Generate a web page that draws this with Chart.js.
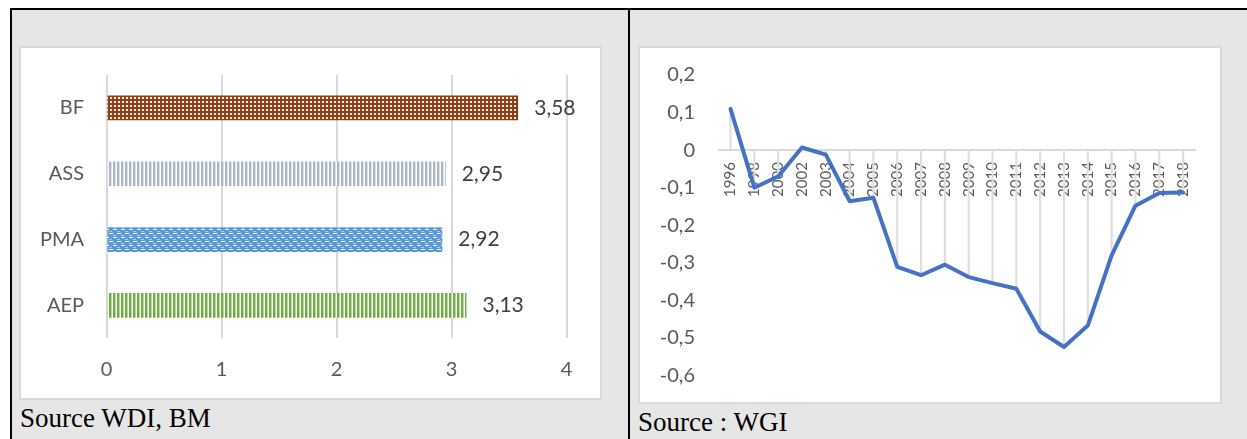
<!DOCTYPE html>
<html>
<head>
<meta charset="utf-8">
<script src="https://cdn.jsdelivr.net/npm/chart.js@4/dist/chart.umd.min.js"></script>
<style>
  html, body { margin: 0; padding: 0; background: #ffffff; }
  body { width: 1247px; height: 439px; position: relative; overflow: hidden; }
  .cell { position: absolute; background: #e7e6e6; }
  .rule { position: absolute; background: #000000; }
  .box { position: absolute; background: #ffffff; border: 2px solid #d9d9d9; box-sizing: border-box; }
  .src { position: absolute; font-family: "Liberation Serif", "DejaVu Serif", serif; font-size: 27px; color: #000000; line-height: 1; white-space: nowrap; }
  canvas { position: absolute; }
</style>
</head>
<body>
  <div class="cell" style="left:12px; top:10px; width:616px; height:429px;"></div>
  <div class="cell" style="left:630px; top:10px; width:617px; height:429px;"></div>
  <div class="rule" style="left:10px; top:8px; width:1237px; height:2px;"></div>
  <div class="rule" style="left:10px; top:8px; width:2px; height:431px;"></div>
  <div class="rule" style="left:628px; top:8px; width:2px; height:431px;"></div>

  <div class="box" style="left:19px; top:46px; width:583px; height:354px;"></div>
  <div class="box" style="left:638px; top:46px; width:584px; height:358px;"></div>

  <canvas id="bars" width="579" height="350" style="left:21px; top:48px; width:579px; height:350px;"></canvas>
  <canvas id="trend" width="580" height="354" style="left:640px; top:48px; width:580px; height:354px;"></canvas>

  <div class="src" style="left:20px; top:405px;">Source WDI, BM</div>
  <div class="src" style="left:638px; top:409px;">Source : WGI</div>

<script>
// Left panel: indicator scores by group
const groups = ['BF', 'ASS', 'PMA', 'AEP'];
const scores = [3.58, 2.95, 2.92, 3.13];
const scoreTicks = [0, 1, 2, 3, 4];

// Right panel: yearly governance estimate
const years = ['1996', '1998', '2000', '2002', '2003', '2004', '2005', '2006', '2007', '2008',
               '2009', '2010', '2011', '2012', '2013', '2014', '2015', '2016', '2017', '2018'];
const estimate = [0.11, -0.10, -0.07, 0.007, -0.012, -0.136, -0.127, -0.311, -0.333, -0.305,
                  -0.338, -0.354, -0.369, -0.483, -0.524, -0.467, -0.28, -0.148, -0.114, -0.113];
const estimateTicks = [0.2, 0.1, 0, -0.1, -0.2, -0.3, -0.4, -0.5, -0.6];

const comma = v => {
  const r = Math.round(v * 100) / 100;
  return r === 0 ? '0' : String(r).replace('.', ',');
};

const axisFont = { family: 'Lato, "Noto Sans", sans-serif', size: 20 };
const axisGrey = '#595959';

// Excel-like pattern fills for the bars
const barsCtx = document.getElementById('bars').getContext('2d');
function makePattern(w, h, bg, paint) {
  const c = document.createElement('canvas');
  c.width = w; c.height = h;
  const g = c.getContext('2d');
  g.fillStyle = bg;
  g.fillRect(0, 0, w, h);
  paint(g);
  return barsCtx.createPattern(c, 'repeat');
}
const dotted = makePattern(4, 4, '#8f4012', g => {
  g.fillStyle = 'rgba(255,255,255,0.9)';
  g.fillRect(1, 1, 2, 2);
});
const greyStripes = makePattern(4, 4, '#ffffff', g => {
  g.fillStyle = '#a9b6ca';
  g.fillRect(0, 0, 2, 4);
  g.fillStyle = '#dfe4ec';
  g.fillRect(2, 0, 1, 4);
});
const blueDashes = makePattern(8, 8, '#5b9bd5', g => {
  g.fillStyle = '#ffffff';
  g.fillRect(0, 1, 4, 1);
  g.fillRect(4, 5, 4, 1);
  g.fillStyle = 'rgba(255,255,255,0.45)';
  g.fillRect(4, 3, 3, 1);
  g.fillRect(0, 7, 3, 1);
});
const greenStripes = makePattern(4, 4, '#ffffff', g => {
  g.fillStyle = '#70ad47';
  g.fillRect(0, 0, 2, 4);
  g.fillStyle = '#b9d9a3';
  g.fillRect(2, 0, 1, 4);
});

// Value labels printed just past the end of each bar
const barValueLabels = {
  id: 'barValueLabels',
  afterDatasetsDraw(chart) {
    const ctx = chart.ctx;
    const meta = chart.getDatasetMeta(0);
    ctx.save();
    ctx.font = '21px Lato, "Noto Sans", sans-serif';
    ctx.fillStyle = '#404040';
    ctx.textAlign = 'left';
    ctx.textBaseline = 'middle';
    meta.data.forEach((bar, i) => {
      ctx.fillText(comma(chart.data.datasets[0].data[i]), bar.x + 16, bar.y);
    });
    ctx.restore();
  }
};

new Chart(barsCtx, {
  type: 'bar',
  data: {
    labels: groups,
    datasets: [{
      data: scores,
      backgroundColor: [dotted, greyStripes, blueDashes, greenStripes],
      borderWidth: 0,
      categoryPercentage: 1,
      barPercentage: 0.375
    }]
  },
  options: {
    indexAxis: 'y',
    responsive: false,
    animation: false,
    events: [],
    layout: { padding: { left: 0, right: 33.5, top: 27, bottom: 0 } },
    plugins: { legend: { display: false }, tooltip: { enabled: false } },
    scales: {
      x: {
        min: 0, max: 4,
        afterBuildTicks: s => { s.ticks = scoreTicks.map(v => ({ value: v })); },
        afterFit: s => { s.height = 59.7; },
        grid: { color: '#d9d9d9', lineWidth: 2, drawTicks: false },
        border: { display: false },
        ticks: { color: axisGrey, font: axisFont, padding: 19, callback: v => comma(v) }
      },
      y: {
        afterFit: s => { s.width = 85.5; },
        // hidden tick marks only set the gap between labels and plot
        grid: { display: false, drawTicks: true, tickLength: 22.5 },
        border: { display: false },
        ticks: { color: axisGrey, font: axisFont, padding: 0 }
      }
    }
  },
  plugins: [barValueLabels]
});

new Chart(document.getElementById('trend'), {
  data: {
    labels: years,
    datasets: [
      {
        type: 'line',
        data: estimate,
        borderColor: '#4472c4',
        borderWidth: 4,
        borderJoinStyle: 'round',
        borderCapStyle: 'round',
        pointRadius: 0,
        tension: 0,
        fill: false,
        order: 1
      },
      {
        // thin drop lines from the zero axis to each yearly value
        type: 'bar',
        data: estimate,
        backgroundColor: '#dedede',
        borderWidth: 0,
        barThickness: 1.5,
        order: 2
      }
    ]
  },
  options: {
    responsive: false,
    animation: false,
    events: [],
    layout: { padding: { left: 0, right: 25, top: 27, bottom: 26.5 } },
    plugins: { legend: { display: false }, tooltip: { enabled: false } },
    scales: {
      x: {
        type: 'category',
        offset: true,
        position: { y: 0 },
        grid: { display: false, drawTicks: false },
        border: { display: true, color: '#d9d9d9', width: 2 },
        ticks: {
          color: axisGrey,
          font: { family: 'Lato, "Noto Sans", sans-serif', size: 15 },
          autoSkip: false,
          minRotation: 90,
          maxRotation: 90,
          padding: 12
        }
      },
      y: {
        min: -0.6, max: 0.2,
        afterBuildTicks: s => { s.ticks = estimateTicks.map(v => ({ value: v })); },
        afterFit: s => { s.width = 78.6; },
        grid: { display: false, drawTicks: true, tickLength: 23.6 },
        border: { display: false },
        ticks: { color: axisGrey, font: axisFont, padding: 0, callback: v => comma(v) }
      }
    }
  }
});
</script>
</body>
</html>
